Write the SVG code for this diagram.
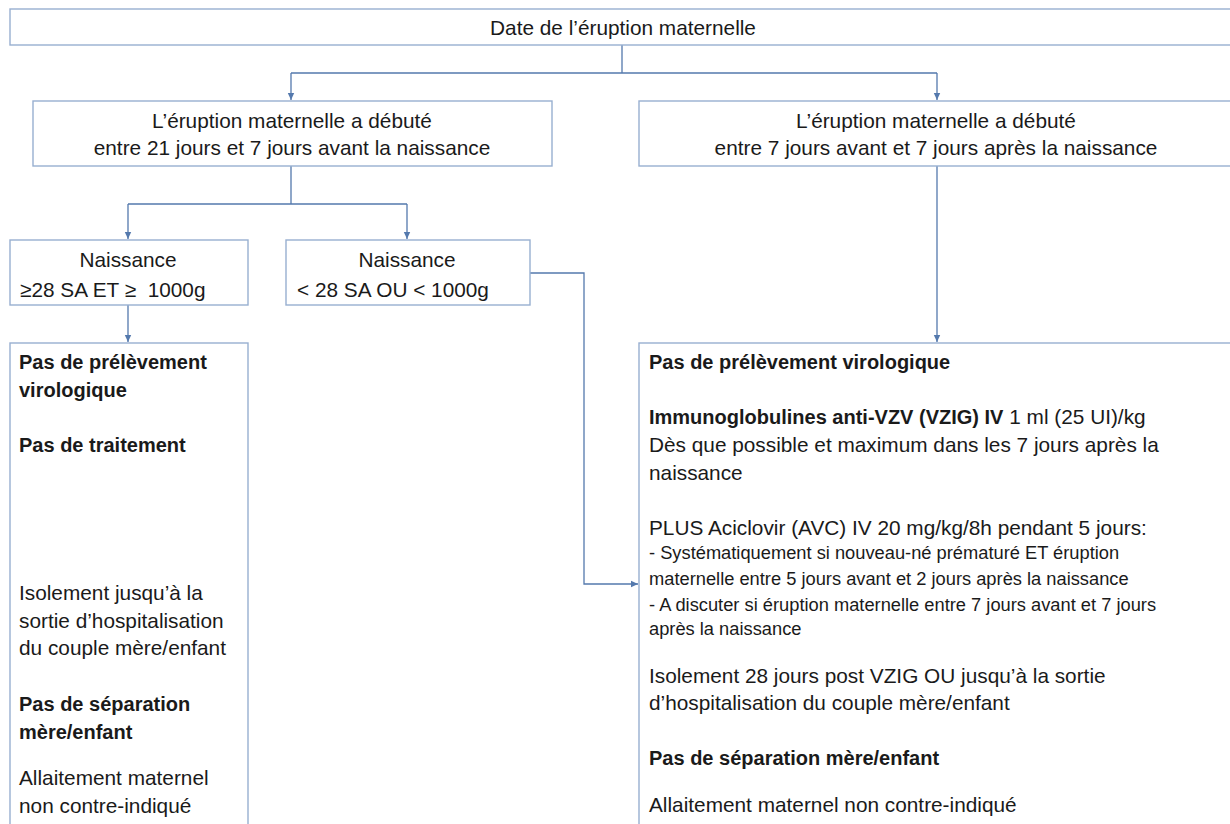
<svg xmlns="http://www.w3.org/2000/svg" width="1230" height="824" viewBox="0 0 1230 824">
<style>
.box{fill:#fff;stroke:#98afd0;stroke-width:1.4}
.t{font-family:"Liberation Sans",Arial,sans-serif;font-size:20.8px;fill:#1a1a1a}
.b{font-weight:bold;font-size:20px}
.s{font-size:18.3px}
.c{text-anchor:middle}
.con{fill:none;stroke:#5479ad;stroke-width:1.3}
</style>
<defs>
<marker id="ah" markerWidth="8" markerHeight="8" refX="7" refY="4" orient="auto" markerUnits="userSpaceOnUse">
<path d="M0,0.8 L7,4 L0,7.2 Z" fill="#5479ad"/>
</marker>
</defs>
<rect width="1230" height="824" fill="#fff"/>
<g id="connectors">
<path class="con" d="M622,45 V73 M291,73 H937"/>
<path class="con" d="M291,73 V100" marker-end="url(#ah)"/>
<path class="con" d="M937,73 V100" marker-end="url(#ah)"/>
<path class="con" d="M291,166 V204 M128,204 H407"/>
<path class="con" d="M128,204 V239" marker-end="url(#ah)"/>
<path class="con" d="M407,204 V239" marker-end="url(#ah)"/>
<path class="con" d="M128,305 V342" marker-end="url(#ah)"/>
<path class="con" d="M937,166 V342" marker-end="url(#ah)"/>
<path class="con" d="M530,273 H584 V584 H638" marker-end="url(#ah)"/>
</g>
<g id="n-date">
<rect class="box" x="10" y="9" width="1240" height="36"/>
<text class="t c" x="623" y="35">Date de l’éruption maternelle</text>
</g>
<g id="n-21-7">
<rect class="box" x="33" y="101" width="519" height="65"/>
<text class="t c" x="292" y="128">L’éruption maternelle a débuté</text>
<text class="t c" x="292" y="155">entre 21 jours et 7 jours avant la naissance</text>
</g>
<g id="n-7-7">
<rect class="box" x="639" y="101" width="611" height="65"/>
<text class="t c" x="936" y="128">L’éruption maternelle a débuté</text>
<text class="t c" x="936" y="155">entre 7 jours avant et 7 jours après la naissance</text>
</g>
<g id="n-ge28">
<rect class="box" x="10" y="240" width="238" height="65"/>
<text class="t c" x="128" y="267">Naissance</text>
<text class="t" x="20" y="297">≥28 SA ET ≥&#160; 1000g</text>
</g>
<g id="n-lt28">
<rect class="box" x="286" y="240" width="244" height="65"/>
<text class="t c" x="407" y="267">Naissance</text>
<text class="t" x="297" y="297">&lt; 28 SA OU &lt; 1000g</text>
</g>
<g id="n-left-result">
<rect class="box" x="10" y="343" width="238" height="500"/>
<text class="t b" x="19" y="369">Pas de prélèvement</text>
<text class="t b" x="19" y="397">virologique</text>
<text class="t b" x="19" y="452">Pas de traitement</text>
<text class="t" x="19" y="600">Isolement jusqu’à la</text>
<text class="t" x="19" y="628">sortie d’hospitalisation</text>
<text class="t" x="19" y="655">du couple mère/enfant</text>
<text class="t b" x="19" y="711">Pas de séparation</text>
<text class="t b" x="19" y="739">mère/enfant</text>
<text class="t" x="19" y="785">Allaitement maternel</text>
<text class="t" x="19" y="813">non contre-indiqué</text>
</g>
<g id="n-right-result">
<rect class="box" x="639" y="343" width="611" height="500"/>
<text class="t b" x="649" y="369">Pas de prélèvement virologique</text>
<text class="t" x="649" y="424"><tspan class="b">Immunoglobulines anti-VZV (VZIG) IV</tspan> 1 ml (25 UI)/kg</text>
<text class="t" x="649" y="452">Dès que possible et maximum dans les 7 jours après la</text>
<text class="t" x="649" y="480">naissance</text>
<text class="t" x="649" y="535">PLUS Aciclovir (AVC) IV 20 mg/kg/8h pendant 5 jours:</text>
<text class="t s" x="649" y="559">- Systématiquement si nouveau-né prématuré ET éruption</text>
<text class="t s" x="649" y="585">maternelle entre 5 jours avant et 2 jours après la naissance</text>
<text class="t s" x="649" y="611">- A discuter si éruption maternelle entre 7 jours avant et 7 jours</text>
<text class="t s" x="649" y="635">après la naissance</text>
<text class="t" x="649" y="683">Isolement 28 jours post VZIG OU jusqu’à la sortie</text>
<text class="t" x="649" y="710">d’hospitalisation du couple mère/enfant</text>
<text class="t b" x="649" y="765">Pas de séparation mère/enfant</text>
<text class="t" x="649" y="812">Allaitement maternel non contre-indiqué</text>
</g>
</svg>
